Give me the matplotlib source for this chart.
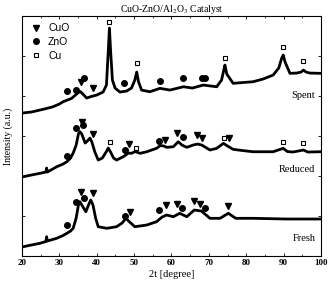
import matplotlib
matplotlib.use('Agg')
import matplotlib.pyplot as plt
from matplotlib.ticker import MultipleLocator

plt.rcParams['font.family'] = ['Liberation Serif', 'DejaVu Serif']
plt.rcParams['mathtext.fontset'] = 'stix'

# intensities in arbitrary units (stacked patterns, offsets included)
spent_theta = [20, 22.5, 24.8, 26.5, 28.3, 30, 31, 32.5, 33.3, 34.3, 35.1, 35.6, 36.3, 37.3,
               38.5, 40, 41.7, 42.6, 43.1, 43.4, 43.7, 44.2, 44.9, 46.2, 48, 49.3, 50.2,
               50.7, 51.2, 52, 54.2, 56.9, 59.6, 63.2, 65.6, 68.5, 72.1, 73.4, 74.0, 74.3,
               74.8, 76.5, 79, 81.8, 84.5, 87.2, 88.7, 89.5, 89.9, 90.4, 91.7, 93.5, 94.7,
               95.3, 96, 97, 100]
spent_y = [143, 144, 146, 147.5, 149.3, 152, 154.3, 156.5, 157.7, 161, 163.5, 164.5, 162,
           158, 159.5, 161, 164, 171, 206, 228, 206, 176, 168, 164, 165, 168, 176,
           184, 174, 166, 164.3, 167.7, 166, 169.3, 168, 171, 169.3, 176, 186, 191,
           182, 172.7, 173.5, 174.3, 177, 181, 188, 198, 201, 194, 182.7, 183, 184,
           186, 184, 183, 182.7]

reduced_theta = [20, 22.5, 24.8, 26.4, 26.6, 26.8, 29.3, 31, 32, 33, 33.7, 34.5, 35.1, 35.5,
                 36, 36.9, 37.5, 38.2, 38.7, 39.5, 40.4, 41.5, 42.5, 43.1, 43.7, 44.5,
                 45.3, 47.1, 48.5, 49.3, 50.3, 51.6, 53.4, 56, 57, 58, 58.7, 60.5, 61.8,
                 62.8, 64.1, 65.8, 67, 68.1, 70.3, 72.1, 73.9, 75, 76.5, 79, 81.8, 87.2,
                 89.9, 91, 92.5, 95.3, 96.5, 100]
reduced_y = [79, 81, 82.7, 84, 88, 84, 89.3, 92, 94.3, 98, 103, 111, 122, 124.3,
             122, 113, 115, 118, 114, 104, 96, 98, 104, 108, 104, 98,
             96, 99.3, 103, 102.7, 104.5, 102.7, 104.3, 107.7, 110.5, 110, 108.7, 109.3, 114.3,
             111, 108.7, 111, 112, 111, 106, 107.7, 112.7, 110, 106.7, 105.5, 104.3, 104.3,
             107.7, 104.5, 104, 106, 104, 104.3]

fresh_theta = [20, 22.5, 24.8, 26.4, 26.6, 26.8, 29.3, 31, 32, 33, 33.7, 34.5, 35.1, 35.5,
               36, 37.1, 37.8, 38.4, 39, 39.7, 40.4, 42.7, 45.3, 46.8, 47.8, 48.8, 50.2,
               53.4, 56, 57.5, 58.7, 60.5, 62.2, 64.1, 66.1, 68, 70.3, 73, 75.2, 77.2,
               81.8, 90.8, 100]
fresh_y = [9, 11, 12.7, 14.5, 19.3, 15, 17.7, 20.5, 22.7, 25, 27.7, 38, 51, 54.3,
           51, 44.3, 51, 56, 51, 38, 29.3, 27.7, 29.3, 33, 37.7, 34, 29.3,
           31, 34.3, 39, 41, 39.3, 42.7, 39.3, 46, 45, 37.7, 37.7, 42.7, 37.7,
           37.7, 37, 37]

# reflection markers: (2theta, intensity)
spent_cuo = [(35.8, 174.3), (38.9, 167.7)]
spent_zno = [(32.0, 165.3), (34.4, 166), (36.6, 178.3), (47.2, 173.5), (56.9, 175.3),
             (63.2, 177.7), (68.1, 177.7), (69.0, 177.7)]
spent_cu = [(43.4, 234.3), (50.8, 192.7), (74.3, 198.3), (89.9, 209.3), (95.1, 195.3)]

reduced_cuo = [(36.0, 134.3), (38.9, 121.7), (48.7, 111.7), (58.4, 116), (61.6, 122.7),
               (66.7, 121), (68.2, 117.7), (75.5, 117.7)]
reduced_zno = [(32.0, 100.3), (34.4, 128.3), (36.4, 131), (47.6, 106), (56.7, 115),
               (63.2, 119.3)]
reduced_cu = [(43.5, 113.7), (50.5, 108.3), (74.1, 118.3), (89.9, 114.3), (95.1, 112.7)]

fresh_cuo = [(35.7, 64.3), (39.1, 62.7), (48.9, 44.3), (58.5, 51), (61.4, 51.7),
             (66.0, 55), (67.6, 51.7), (75.2, 50.3)]
fresh_zno = [(32.0, 31), (34.4, 54.3), (36.6, 58.3), (47.6, 40), (56.7, 46),
             (62.9, 48.3), (69.1, 48.3)]

pattern_labels = ['Spent', 'Reduced', 'Fresh']
label_y = [161, 87, 18]

fig = plt.figure(figsize=(3.28, 2.87), dpi=100)
ax = fig.add_axes([0.067, 0.108, 0.9116, 0.836])

for th, y in [(spent_theta, spent_y), (reduced_theta, reduced_y), (fresh_theta, fresh_y)]:
    ax.plot(th, y, color='black', lw=2.0, solid_joinstyle='round')


def put(points, **kw):
    if points:
        xs, ys = zip(*points)
        ax.plot(xs, ys, ls='none', **kw)


cuo_style = dict(marker='v', ms=4.6, color='black', mec='black')
zno_style = dict(marker='o', ms=4.0, color='black', mec='black')
cu_style = dict(marker='s', ms=3.4, mfc='white', mec='black', mew=0.8)

for pts in [spent_cuo, reduced_cuo, fresh_cuo]:
    put(pts, **cuo_style)
for pts in [spent_zno, reduced_zno, fresh_zno]:
    put(pts, **zno_style)
for pts in [spent_cu, reduced_cu]:
    put(pts, **cu_style)

# legend drawn as handles in upper left
ax.plot([], [], ls='none', label='CuO', **cuo_style)
ax.plot([], [], ls='none', label='ZnO', **zno_style)
ax.plot([], [], ls='none', label='Cu', **cu_style)
leg = ax.legend(loc='upper left', frameon=False, handletextpad=0.6, labelspacing=0.35,
                borderaxespad=0.4, prop={'family': 'Liberation Sans', 'size': 7.5},
                handlelength=1.2, borderpad=0.3)

for name, yy in zip(pattern_labels, label_y):
    ax.text(98.5, yy, name, ha='right', va='center', fontsize=7.5)

ax.set_xlim(20, 100)
ax.set_ylim(0, 240)
ax.xaxis.set_major_locator(MultipleLocator(10))
ax.xaxis.set_minor_locator(MultipleLocator(5))
ax.yaxis.set_major_locator(MultipleLocator(40))
ax.set_yticklabels([])
ax.tick_params(direction='in', top=True, right=True, length=2.5, width=0.6)
ax.tick_params(which='minor', direction='in', top=True, length=1.5, width=0.5)
for lab in ax.get_xticklabels():
    lab.set_fontweight('bold')
    lab.set_fontsize(6.5)
ax.tick_params(axis='x', pad=2)
for s in ax.spines.values():
    s.set_linewidth(0.8)

ax.set_xlabel('2t [degree]', fontsize=7.5, labelpad=2)
ax.set_ylabel('Intensity (a.u.)', fontsize=7, labelpad=3)
ax.set_title('CuO-ZnO/Al$_2$O$_3$ Catalyst', fontsize=7, pad=3)

fig.savefig('out.png', dpi=100)
